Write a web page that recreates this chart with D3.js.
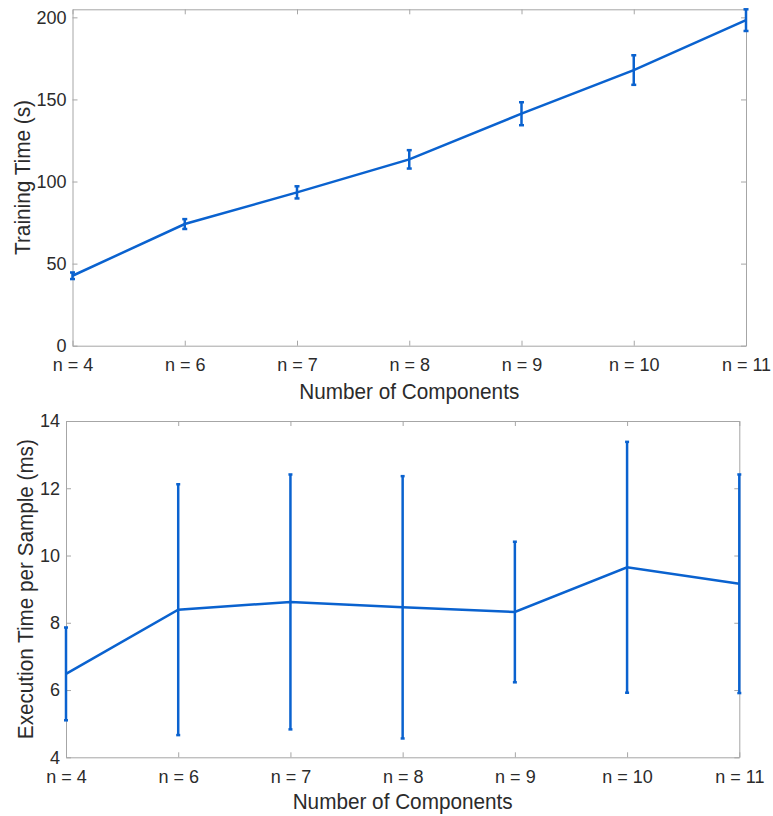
<!DOCTYPE html>
<html>
<head>
<meta charset="utf-8">
<script src="https://cdn.jsdelivr.net/npm/d3@7"></script>
<style>
  body { margin: 0; background: #fff; }
  text { font-family: "Liberation Sans", Arial, sans-serif; fill: #2b2b2b; }
</style>
</head>
<body>
<div class="container"></div>
<script>
// DATA
const categories = ["n = 4", "n = 6", "n = 7", "n = 8", "n = 9", "n = 10", "n = 11"];

// training time (s), mean and half-width of the error bar
const trainMean = [42.6, 74.1, 93.4, 113.5, 141.3, 167.9, 198.3];
const trainErr = [2.0, 3.0, 3.7, 5.6, 7.0, 9.0, 6.6];
const trainTicks = [0, 50, 100, 150, 200];

// execution time per sample (ms)
const execMean = [6.48, 8.39, 8.62, 8.46, 8.32, 9.65, 9.16];
const execErr = [1.38, 3.73, 3.79, 3.9, 2.09, 3.73, 3.25];
const execTicks = [4, 6, 8, 10, 12, 14];

// SETUP
const W = 773, H = 816;
const blue = "#0a62cf", axisGrey = "#a6a6a6";

const svg = d3.select("div.container")
  .append("svg")
  .attr("width", W)
  .attr("height", H);

// draws one panel: box, inward ticks, line and error bars
function drawPanel(opts) {
  const { left, right, top, bottom, yDomain, ticks, mean, err, yLabel, yLabelLen, capW, labelX, xPad, xLabelY } = opts;

  const x = d3.scalePoint()
    .domain(categories)
    .range([left, right])
    .padding(0);

  const y = d3.scaleLinear()
    .domain(yDomain)
    .range([bottom, top]);

  const g = svg.append("g");

  // axes, ticks pointing inside the box
  const bottomAxis = g.append("g")
    .attr("transform", `translate(0, ${bottom})`)
    .call(d3.axisBottom(x).tickSizeInner(-5).tickSizeOuter(0).tickPadding(xPad));
  bottomAxis.selectAll("text").style("font-size", "18px");

  g.append("g")
    .attr("transform", `translate(0, ${top})`)
    .call(d3.axisTop(x).tickSizeInner(-5).tickSizeOuter(0).tickFormat(""));

  const leftAxis = g.append("g")
    .attr("transform", `translate(${left}, 0)`)
    .call(d3.axisLeft(y).tickValues(ticks).tickSizeInner(-5).tickSizeOuter(0).tickPadding(6));
  leftAxis.selectAll("text").style("font-size", "18px");

  g.append("g")
    .attr("transform", `translate(${right}, 0)`)
    .call(d3.axisRight(y).tickValues(ticks).tickSizeInner(-5).tickSizeOuter(0).tickFormat(""));

  g.selectAll(".domain, .tick line").attr("stroke", axisGrey).attr("stroke-width", 1);

  // axis titles
  g.append("text")
    .attr("x", (left + right) / 2)
    .attr("y", xLabelY)
    .attr("text-anchor", "middle")
    .attr("textLength", 220)
    .attr("lengthAdjust", "spacingAndGlyphs")
    .style("font-size", "22px")
    .text("Number of Components");

  g.append("text")
    .attr("transform", `translate(${labelX}, ${(top + bottom) / 2}) rotate(-90)`)
    .attr("text-anchor", "middle")
    .attr("dy", "0.35em")
    .attr("textLength", yLabelLen)
    .attr("lengthAdjust", "spacingAndGlyphs")
    .style("font-size", "22px")
    .text(yLabel);

  // mean line
  const line = d3.line()
    .x((d, i) => x(categories[i]))
    .y(d => y(d));

  g.append("path")
    .datum(mean)
    .attr("fill", "none")
    .attr("stroke", blue)
    .attr("stroke-width", 2.5)
    .attr("d", line);

  // error bars
  const bars = g.append("g")
    .attr("stroke", blue)
    .attr("stroke-width", 2.5)
    .selectAll("g")
    .data(mean)
    .enter()
    .append("g");

  bars.append("line")
    .attr("x1", (d, i) => x(categories[i]))
    .attr("x2", (d, i) => x(categories[i]))
    .attr("y1", (d, i) => y(d - err[i]))
    .attr("y2", (d, i) => y(d + err[i]));

  bars.append("line")
    .attr("x1", (d, i) => x(categories[i]) - capW)
    .attr("x2", (d, i) => x(categories[i]) + capW)
    .attr("y1", (d, i) => y(d + err[i]))
    .attr("y2", (d, i) => y(d + err[i]));

  bars.append("line")
    .attr("x1", (d, i) => x(categories[i]) - capW)
    .attr("x2", (d, i) => x(categories[i]) + capW)
    .attr("y1", (d, i) => y(d - err[i]))
    .attr("y2", (d, i) => y(d - err[i]));
}

drawPanel({
  left: 72.5, right: 746, top: 9.3, bottom: 345.7,
  yDomain: [0, 204.9], ticks: trainTicks,
  mean: trainMean, err: trainErr,
  yLabel: "Training Time (s)", yLabelLen: 155, capW: 2.5, labelX: 22,
  xPad: 12.5, xLabelY: 399
});

drawPanel({
  left: 66, right: 739.3, top: 421, bottom: 757.3,
  yDomain: [4, 14], ticks: execTicks,
  mean: execMean, err: execErr,
  yLabel: "Execution Time per Sample (ms)", yLabelLen: 300, capW: 2, labelX: 25,
  xPad: 13, xLabelY: 809
});
</script>
</body>
</html>
